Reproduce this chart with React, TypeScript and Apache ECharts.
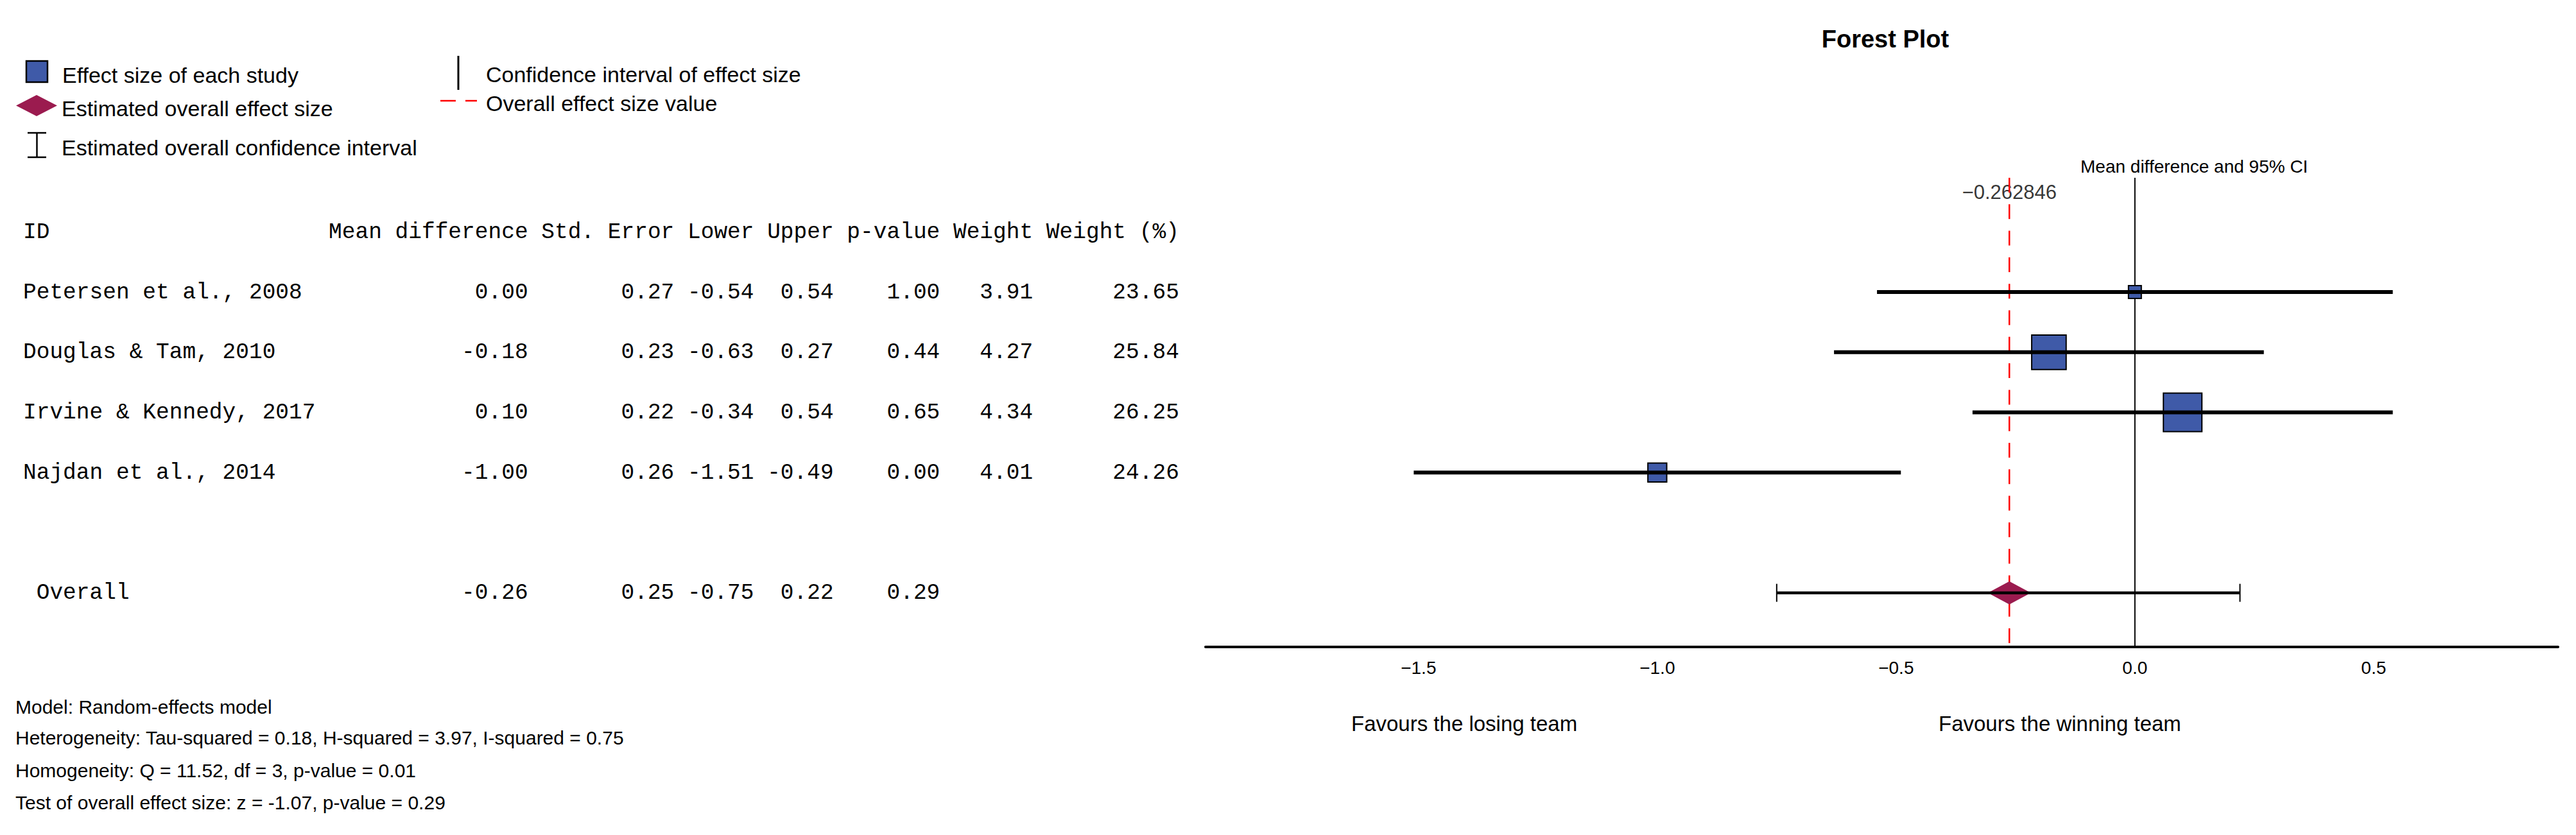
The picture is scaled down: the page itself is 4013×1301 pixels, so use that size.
import React, { useEffect, useRef } from "react";
import * as echarts from "echarts";

// ---------- data ----------
const studyNames = [
  "Petersen et al., 2008",
  "Douglas & Tam, 2010",
  "Irvine & Kennedy, 2017",
  "Najdan et al., 2014",
];
const meanDiff = [0.0, -0.18, 0.1, -1.0];
const stdError = [0.27, 0.23, 0.22, 0.26];
const lowerCI = [-0.54, -0.63, -0.34, -1.51];
const upperCI = [0.54, 0.27, 0.54, -0.49];
const pValue = [1.0, 0.44, 0.65, 0.0];
const weight = [3.91, 4.27, 4.34, 4.01];
const weightPct = [23.65, 25.84, 26.25, 24.26];

const overallLabel = "Overall";
const overallMean = -0.262846;
const overallSE = 0.25;
const overallLower = -0.75;
const overallUpper = 0.22;
const overallP = 0.29;

const headerLabels = [
  "Mean difference",
  "Std. Error",
  "Lower",
  "Upper",
  "p-value",
  "Weight",
  "Weight (%)",
];
const xTicks = [-1.5, -1.0, -0.5, 0.0, 0.5];

const footerLines = [
  "Model: Random-effects model",
  "Heterogeneity: Tau-squared = 0.18, H-squared = 3.97, I-squared = 0.75",
  "Homogeneity: Q = 11.52, df = 3, p-value = 0.01",
  "Test of overall effect size: z = -1.07, p-value = 0.29",
];
const legendLabels = [
  "Effect size of each study",
  "Estimated overall effect size",
  "Estimated overall confidence interval",
  "Confidence interval of effect size",
  "Overall effect size value",
];
const favourLabels = ["Favours the losing team", "Favours the winning team"];
const titleText = "Forest Plot";
const ciLabel = "Mean difference and 95% CI";

// ---------- layout / style ----------
const SANS = "'Liberation Sans', Arial, sans-serif";
const MONO = "'Liberation Mono', 'Courier New', monospace";
const BOX_BLUE = "#3F5AA8";
const DIAMOND = "#9B1B4F";
const X_MIN = -1.946;
const X_MAX = 0.886;
const Y_MIN = -1.9;
const Y_MAX = 5.9;
const HEADER_ROW = -1;
const OVERALL_ROW = 5;
const LABEL_ROW = -1.655;
const CHAR_W = 20.7;
const TABLE_X0 = 36;
const COL_END = [38, 49, 55, 61, 69, 76, 87];

const minus = (s: string) => s.replace("-", "\u2212");

export default function App() {
  const ref = useRef<HTMLDivElement>(null);

  useEffect(() => {
    const chart = echarts.init(ref.current!, null, { renderer: "svg" });

    const wpMin = Math.min(...weightPct);
    const wpMax = Math.max(...weightPct);
    const boxSize = (wp: number) => 20 + ((wp - wpMin) / (wpMax - wpMin)) * 40;

    const option: any = {
      animation: false,
      backgroundColor: "#fff",
      title: {
        text: titleText,
        left: 2932,
        top: 37,
        textAlign: "center",
        textStyle: { fontFamily: SANS, fontWeight: "bold", fontSize: 38, color: "#000" },
      },
      grid: { left: 1878, top: 277, width: 2107, height: 731, containLabel: false, outerBoundsMode: "none" },
      xAxis: {
        type: "value",
        min: X_MIN,
        max: X_MAX,
        axisLine: { show: true, onZero: false, lineStyle: { color: "#000", width: 4 } },
        axisTick: { show: false },
        splitLine: { show: false },
        axisLabel: {
          customValues: xTicks,
          formatter: (v: number) => minus(v.toFixed(1)),
          fontFamily: SANS,
          fontSize: 28,
          color: "#000",
          margin: 18,
        },
      },
      yAxis: { type: "value", inverse: true, min: Y_MIN, max: Y_MAX, show: false },
      series: [
        {
          type: "line",
          data: [
            [0, Y_MIN],
            [0, Y_MAX],
          ],
          symbol: "none",
          silent: true,
          lineStyle: { color: "#000", width: 2 },
          z: 1,
        },
        {
          type: "line",
          data: [
            [overallMean, Y_MIN],
            [overallMean, Y_MAX],
          ],
          symbol: "none",
          silent: true,
          lineStyle: { color: "#ff0000", width: 2.5, type: [23, 18.3] },
          z: 2,
        },
        {
          type: "scatter",
          data: [[overallMean, LABEL_ROW]],
          symbolSize: 1,
          itemStyle: { color: "rgba(0,0,0,0)" },
          silent: true,
          label: {
            show: true,
            position: "inside",
            formatter: () => minus(String(overallMean)),
            fontFamily: SANS,
            fontSize: 31,
            color: "#000",
          },
          z: 1,
        },
        {
          type: "custom",
          data: studyNames.map((_, i) => [meanDiff[i], i, lowerCI[i], upperCI[i], weightPct[i]]),
          encode: { x: [0, 2, 3], y: 1 },
          z: 3,
          renderItem: (params: any, api: any) => {
            const m = api.value(0);
            const row = api.value(1);
            const lo = api.value(2);
            const hi = api.value(3);
            const wp = api.value(4);
            const c = api.coord([m, row]);
            const a = api.coord([lo, row]);
            const b = api.coord([hi, row]);
            const s = boxSize(wp);
            return {
              type: "group",
              children: [
                {
                  type: "rect",
                  shape: { x: c[0] - s / 2, y: c[1] - s / 2, width: s, height: s },
                  style: { fill: BOX_BLUE, stroke: "#000", lineWidth: 2 },
                },
                {
                  type: "line",
                  shape: { x1: a[0], y1: a[1], x2: b[0], y2: b[1] },
                  style: { stroke: "#000", lineWidth: 6 },
                },
              ],
            };
          },
        },
        {
          type: "custom",
          data: [[overallMean, OVERALL_ROW, overallLower, overallUpper]],
          encode: { x: [0, 2, 3], y: 1 },
          z: 3,
          renderItem: (params: any, api: any) => {
            const c = api.coord([api.value(0), api.value(1)]);
            const a = api.coord([api.value(2), api.value(1)]);
            const b = api.coord([api.value(3), api.value(1)]);
            const hw = 33.5;
            const hh = 18;
            const cap = 14;
            return {
              type: "group",
              children: [
                {
                  type: "polygon",
                  shape: {
                    points: [
                      [c[0] - hw, c[1]],
                      [c[0], c[1] - hh],
                      [c[0] + hw, c[1]],
                      [c[0], c[1] + hh],
                    ],
                  },
                  style: { fill: DIAMOND },
                },
                {
                  type: "line",
                  shape: { x1: a[0], y1: a[1], x2: b[0], y2: b[1] },
                  style: { stroke: "#000", lineWidth: 4.5 },
                },
                {
                  type: "line",
                  shape: { x1: a[0], y1: a[1] - cap, x2: a[0], y2: a[1] + cap },
                  style: { stroke: "#000", lineWidth: 2 },
                },
                {
                  type: "line",
                  shape: { x1: b[0], y1: b[1] - cap, x2: b[0], y2: b[1] + cap },
                  style: { stroke: "#000", lineWidth: 2 },
                },
              ],
            };
          },
        },
      ],
    };
    chart.setOption(option);

    const yPix = (v: number) => chart.convertToPixel({ yAxisIndex: 0 }, v) as number;
    const txt = (
      text: string,
      x: number,
      y: number,
      fontSize: number,
      fontFamily: string,
      align: string = "left",
      fontWeight: string = "normal"
    ) => ({
      type: "text",
      x,
      y,
      silent: true,
      style: {
        text,
        fill: "#000",
        fontSize,
        fontFamily,
        fontWeight,
        align,
        textAlign: align,
        verticalAlign: "middle",
        textVerticalAlign: "middle",
      },
    });
    const colX = (k: number) => TABLE_X0 + COL_END[k] * CHAR_W;
    const f2 = (v: number) => v.toFixed(2);

    const graphics: any[] = [];
    // table header
    const hy = yPix(HEADER_ROW);
    graphics.push(txt("ID", TABLE_X0, hy, 34.5, MONO));
    headerLabels.forEach((h, k) => graphics.push(txt(h, colX(k), hy, 34.5, MONO, "right")));
    // study rows
    studyNames.forEach((name, i) => {
      const y = yPix(i);
      graphics.push(txt(name, TABLE_X0, y, 34.5, MONO));
      const vals = [meanDiff[i], stdError[i], lowerCI[i], upperCI[i], pValue[i], weight[i], weightPct[i]];
      vals.forEach((v, k) => graphics.push(txt(f2(v), colX(k), y, 34.5, MONO, "right")));
    });
    // overall row
    const oy = yPix(OVERALL_ROW);
    graphics.push(txt(overallLabel, TABLE_X0 + CHAR_W, oy, 34.5, MONO));
    [overallMean, overallSE, overallLower, overallUpper, overallP].forEach((v, k) =>
      graphics.push(txt(f2(v), colX(k), oy, 34.5, MONO, "right"))
    );

    // footer
    const footerY = [1101, 1149, 1200, 1250];
    footerLines.forEach((l, i) => graphics.push(txt(l, 24, footerY[i], 30, SANS)));

    // favour labels
    graphics.push(txt(favourLabels[0], 2105, 1127, 33, SANS));
    graphics.push(txt(favourLabels[1], 3020, 1127, 33, SANS));

    // CI label
    graphics.push(txt(ciLabel, 3241, 259, 28, SANS));

    // legend
    graphics.push({
      type: "rect",
      shape: { x: 41, y: 95, width: 33, height: 33 },
      style: { fill: BOX_BLUE, stroke: "#000", lineWidth: 2.5 },
      silent: true,
    });
    graphics.push(txt(legendLabels[0], 97, 116.5, 34, SANS));
    graphics.push({
      type: "polygon",
      shape: {
        points: [
          [25, 164.5],
          [57, 148],
          [89, 164.5],
          [57, 181],
        ],
      },
      style: { fill: DIAMOND },
      silent: true,
    });
    graphics.push(txt(legendLabels[1], 96, 168.5, 34, SANS));
    graphics.push({ type: "line", shape: { x1: 57.5, y1: 207, x2: 57.5, y2: 245 }, style: { stroke: "#000", lineWidth: 2.5 }, silent: true });
    graphics.push({ type: "line", shape: { x1: 43, y1: 207, x2: 72, y2: 207 }, style: { stroke: "#000", lineWidth: 2.5 }, silent: true });
    graphics.push({ type: "line", shape: { x1: 43, y1: 245, x2: 72, y2: 245 }, style: { stroke: "#000", lineWidth: 2.5 }, silent: true });
    graphics.push(txt(legendLabels[2], 96, 229.5, 34, SANS));
    graphics.push({ type: "line", shape: { x1: 714, y1: 87, x2: 714, y2: 140 }, style: { stroke: "#000", lineWidth: 3 }, silent: true });
    graphics.push(txt(legendLabels[3], 757, 116, 34, SANS));
    graphics.push({ type: "line", shape: { x1: 686, y1: 157, x2: 710, y2: 157 }, style: { stroke: "#ff0000", lineWidth: 2.5 }, silent: true });
    graphics.push({ type: "line", shape: { x1: 725, y1: 157, x2: 743, y2: 157 }, style: { stroke: "#ff0000", lineWidth: 2.5 }, silent: true });
    graphics.push(txt(legendLabels[4], 757, 161, 34, SANS));

    chart.setOption({ graphic: graphics });

    return () => chart.dispose();
  }, []);

  return (
    <div
      ref={ref}
      style={{ position: "fixed", left: 0, top: 0, width: 4013, height: 1301, background: "#fff" }}
    />
  );
}
